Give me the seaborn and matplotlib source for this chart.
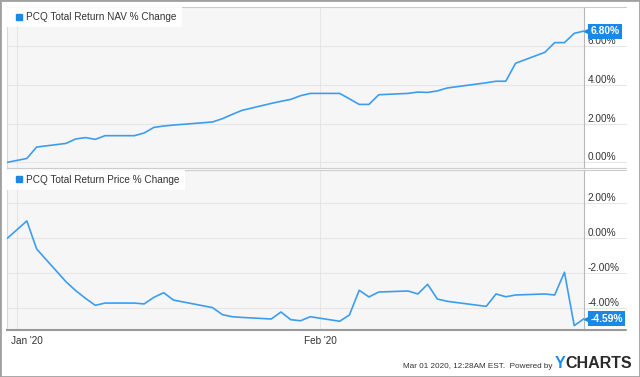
import matplotlib
matplotlib.use("Agg")
import matplotlib.pyplot as plt
import matplotlib.transforms as mtransforms
from matplotlib.lines import Line2D
from matplotlib.patches import Rectangle
import numpy as np
import pandas as pd
import seaborn as sns

# ---------------- data ----------------
dates = ["2019-12-31",
         "2020-01-02", "2020-01-03", "2020-01-06", "2020-01-07", "2020-01-08",
         "2020-01-09", "2020-01-10", "2020-01-13", "2020-01-14", "2020-01-15",
         "2020-01-16", "2020-01-17", "2020-01-21", "2020-01-22", "2020-01-23",
         "2020-01-24", "2020-01-27", "2020-01-28", "2020-01-29", "2020-01-30",
         "2020-01-31",
         "2020-02-03", "2020-02-04", "2020-02-05", "2020-02-06", "2020-02-07",
         "2020-02-10", "2020-02-11", "2020-02-12", "2020-02-13", "2020-02-14",
         "2020-02-18", "2020-02-19", "2020-02-20", "2020-02-21", "2020-02-24",
         "2020-02-25", "2020-02-26", "2020-02-27", "2020-02-28"]
nav_change = [0.00,
              0.20, 0.79, 0.98, 1.21, 1.28,
              1.19, 1.38, 1.38, 1.52, 1.81,
              1.88, 1.93, 2.09, 2.26, 2.48,
              2.69, 3.05, 3.16, 3.26, 3.45,
              3.57,
              3.57, 3.29, 3.00, 3.00, 3.50,
              3.57, 3.64, 3.62, 3.70, 3.85,
              4.12, 4.20, 4.20, 5.13, 5.70,
              6.20, 6.20, 6.68, 6.80]
price_change = [0.00,
                0.99, -0.61, -2.48, -2.99, -3.43,
                -3.83, -3.70, -3.70, -3.75, -3.37,
                -3.11, -3.53, -3.96, -4.36, -4.48,
                -4.52, -4.61, -4.21, -4.65, -4.71,
                -4.48,
                -4.74, -4.38, -2.97, -3.35, -3.07,
                -3.01, -3.18, -2.63, -3.47, -3.60,
                -3.89, -3.18, -3.34, -3.24, -3.18,
                -3.24, -1.94, -4.99, -4.59]
series_names = ["PCQ Total Return NAV % Change", "PCQ Total Return Price % Change"]
top_ticks = [0, 2, 4, 6]
bottom_ticks = [-4, -2, 0, 2]
month_ticks = ["2020-01-01", "2020-02-01"]
month_labels = ["Jan '20", "Feb '20"]
footer_text = "Mar 01 2020, 12:28AM EST.  Powered by"

df = pd.DataFrame({"date": pd.to_datetime(dates),
                   "nav": nav_change, "price": price_change})

# ---------------- style ----------------
sns.set_style("white")
plt.rcParams["font.family"] = ["Liberation Sans", "DejaVu Sans"]

LINE = "#3d9ded"
TAG = "#1a88e6"
PLOT_BG = "#f6f6f6"
GRID = "#e6e6e6"
TXT = "#333333"

W, H = 640, 377
fig = plt.figure(figsize=(W / 100, H / 100), dpi=100)
fig.patch.set_facecolor("white")


def rect(l, t, r, b):
    return [l / W, 1 - b / H, (r - l) / W, (b - t) / H]


ax1 = fig.add_axes(rect(7.3, 7.3, 584, 168.5))
ax2 = fig.add_axes(rect(7.3, 170.0, 584, 329.5))

xmin, xmax = pd.Timestamp(dates[0]), pd.Timestamp(dates[-1])
panels = [(ax1, "nav", series_names[0], top_ticks, (-0.32, 8.03)),
          (ax2, "price", series_names[1], bottom_ticks, (-5.21, 3.90))]

for ax, col, name, yt, ylim in panels:
    ax.set_facecolor(PLOT_BG)
    sns.lineplot(data=df, x="date", y=col, ax=ax, color=LINE, lw=1.2,
                 legend=False, zorder=3)
    ax.set_xlim(xmin, xmax)
    ax.set_ylim(*ylim)
    ax.set_xlabel("")
    ax.set_ylabel("")
    ax.set_yticks(yt)
    ax.set_yticklabels([f"{v:.2f}%" for v in yt])
    ax.yaxis.tick_right()
    ax.tick_params(axis="y", length=0, pad=2.5, labelsize=7.2, labelcolor=TXT)
    for lbl in ax.get_yticklabels():
        lbl.set_va("bottom")
    ax.set_xticks(pd.to_datetime(month_ticks))
    ax.grid(True, color=GRID, lw=0.8, zorder=0)
    ax.set_axisbelow(True)
    # gridline extension into right label area
    for v in yt:
        ax.plot([1, 1.072], [v, v], transform=ax.get_yaxis_transform(),
                color=GRID, lw=0.8, clip_on=False, zorder=1)
    for side in ["left", "right", "top", "bottom"]:
        ax.spines[side].set_visible(True)
        ax.spines[side].set_linewidth(0.8)
    ax.spines["left"].set_color("#d8d8d8")
    ax.spines["right"].set_color("#b8b8b8")
    ax.spines["top"].set_color("#cccccc")
    ax.spines["bottom"].set_color("#cccccc")
    # legend
    h = Line2D([], [], marker="s", ls="", color=TAG, ms=4.5)
    leg = ax.legend(handles=[h], labels=[name], loc="upper left",
                    bbox_to_anchor=(0, 1), borderaxespad=0, frameon=True,
                    fancybox=False, fontsize=7.2, handletextpad=0.1,
                    borderpad=0.5, handlelength=1.3, labelcolor=TXT)
    leg.get_frame().set_facecolor("white")
    leg.get_frame().set_edgecolor("none")
    leg.get_frame().set_alpha(0.92)
    leg.set_zorder(5)
    # last value tag
    last_x, last_y = df["date"].iloc[-1], df[col].iloc[-1]
    ax.plot([last_x], [last_y], marker="<", ms=6, color=TAG, clip_on=False,
            zorder=6, transform=ax.transData + mtransforms.ScaledTranslation(
                3.5 / 100, 0, fig.dpi_scale_trans))
    ax.annotate(f"{last_y:.2f}%", xy=(last_x, last_y), xytext=(4.5, 0),
                textcoords="offset points", ha="left", va="center",
                fontsize=7.4, color="white", fontweight="bold",
                bbox=dict(boxstyle="square,pad=0.24", fc=TAG, ec="none"),
                annotation_clip=False, zorder=7)

# top/bottom border extensions
ax1.plot([1, 1.072], [1, 1], transform=ax1.transAxes, color="#cccccc",
         lw=0.8, clip_on=False)
ax1.plot([1, 1.072], [0, 0], transform=ax1.transAxes, color="#cccccc",
         lw=0.8, clip_on=False)
ax2.plot([1, 1.072], [1, 1], transform=ax2.transAxes, color="#cccccc",
         lw=0.8, clip_on=False)
ax2.spines["bottom"].set_color("#9a9a9a")
ax2.spines["bottom"].set_linewidth(1.5)
ax2.plot([1, 1.072], [0, 0], transform=ax2.transAxes, color="#9a9a9a",
         lw=1.5, clip_on=False)

ax1.tick_params(axis="x", length=0, labelbottom=False)
ax2.set_xticklabels(month_labels)
ax2.tick_params(axis="x", length=0, pad=5, labelsize=7.2, labelcolor=TXT)
jl = ax2.get_xticklabels()[0]
jl.set_ha("left")
jl.set_transform(jl.get_transform() + mtransforms.ScaledTranslation(
    -6 / 100, 0, fig.dpi_scale_trans))

# footer
fig.canvas.draw()
r = fig.canvas.get_renderer()
t_charts = fig.text(632 / W, 1 - 364 / H, "CHARTS", ha="right", va="center",
                    fontsize=11.5, fontweight="bold", color="#2a2a2a")
bb = t_charts.get_window_extent(r)
t_y = fig.text(bb.x0 / W, 1 - 364 / H, "Y", ha="right", va="center",
               fontsize=11.5, fontweight="bold", color="#1a8cf0")
bb2 = t_y.get_window_extent(r)
fig.text((bb2.x0 - 2) / W, 1 - 366 / H, footer_text, ha="right", va="center",
         fontsize=5.9, color=TXT)

fig.add_artist(Rectangle((0, 0), 1, 1, transform=fig.transFigure, fill=False,
                         ec="#a0a0a0", lw=2))

fig.savefig("out.png", dpi=100)
